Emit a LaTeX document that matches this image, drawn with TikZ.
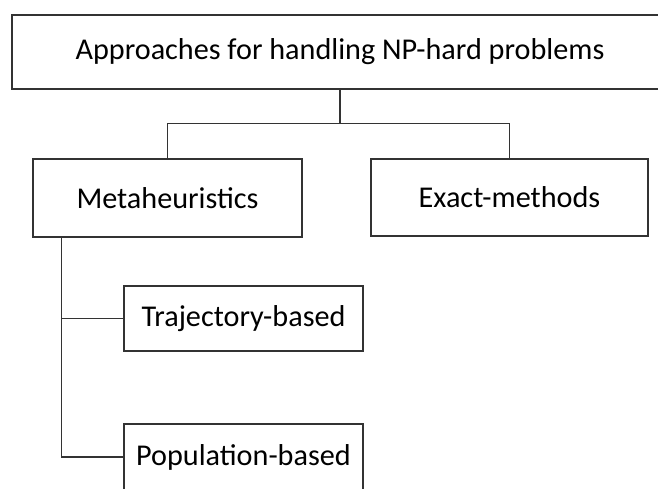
\documentclass[tikz,border=0pt]{standalone}
\usepackage{fontspec}
\setmainfont{Carlito}
\usetikzlibrary{calc}

\begin{document}
\begin{tikzpicture}[x=1pt, y=-1pt, font=\fontsize{30.2}{35}\selectfont,
    box/.style={draw=black!80, line width=1.1pt, rectangle, inner sep=0pt},
    link/.style={draw=black!80, line width=1.1pt}]
    \useasboundingbox (0,0) rectangle (658,489);
    % boxes
    \node[box, minimum width=656pt, minimum height=74pt] (root) at (340,52) {Approaches for handling NP-hard problems};
    \node[box, minimum width=269pt, minimum height=78pt] (meta) at (167.5,198) {Metaheuristics};
    \node[box, minimum width=277pt, minimum height=77pt] (exact) at (509.5,197.5) {Exact-methods};
    \node[box, minimum width=239pt, minimum height=65pt] (traj) at (243.5,318.5) {Trajectory-based};
    \node[box, minimum width=239pt, minimum height=66pt] (pop) at (243.5,457) {Population-based};

    % tree lines
    \coordinate (split) at ($(root.south)+(0,34)$);
    \coordinate (trunk) at ($(meta.south west)+(29,0)$);
    \draw[link] (root.south) -- (split);
    \draw[link] (meta.north) |- (split) -| (exact.north);
    \draw[link] (trunk) |- (pop.west);
    \draw[link] (traj.west) -- (traj.west -| trunk);
\end{tikzpicture}
\end{document}
